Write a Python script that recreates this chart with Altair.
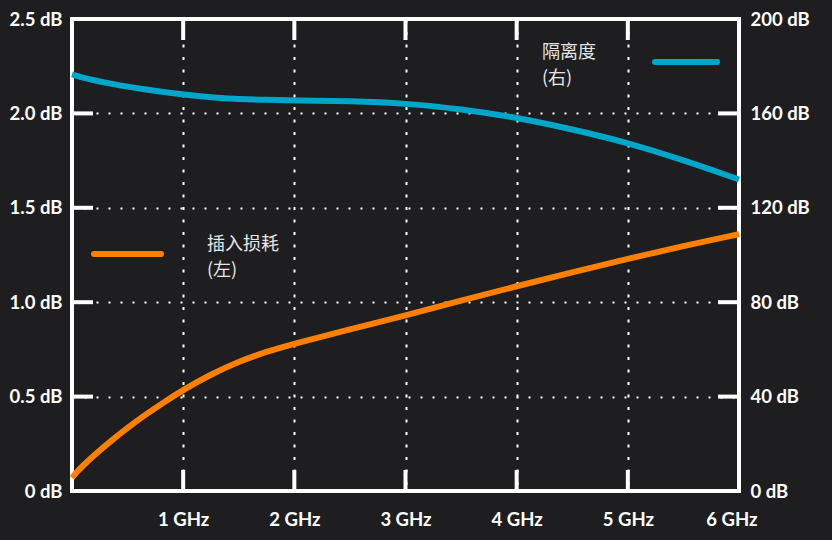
import altair as alt
import pandas as pd

# ---- data ----
freq_ghz = [0, 0.05, 0.1, 0.2, 0.35, 0.5, 0.65, 0.8, 1.0, 1.25, 1.5, 1.75, 2.0,
            2.5, 3.0, 3.5, 4.0, 4.5, 5.0, 5.5, 6.0]
insertion_loss_db = [0.07, 0.105, 0.135, 0.19, 0.265, 0.335, 0.40, 0.46, 0.536, 0.618,
                     0.686, 0.738, 0.781, 0.856, 0.93, 1.008, 1.085, 1.158, 1.23, 1.298, 1.36]
isolation_db = [176.5, 175.8, 175.1, 174.0, 172.6, 171.3, 170.2, 169.2, 168.0,
                166.8, 166.1, 165.7, 165.5, 165.2, 164.3, 161.8, 158.3, 153.3,
                147.6, 140.2, 132.0]

x_ticks = [1, 2, 3, 4, 5, 6]
left_ticks = [0, 0.5, 1.0, 1.5, 2.0, 2.5]
right_ticks = [0, 40, 80, 120, 160, 200]
inner_tick_x = [1, 2, 3, 4, 5]
inner_tick_y = [0.5, 1.0, 1.5, 2.0]

il_label = ["插入损耗", "(左)"]
iso_label = ["隔离度", "(右)"]

ORANGE = "#ff8000"
CYAN = "#00a6c9"
BG = "#1e1e20"
WHITE = "#ffffff"
TXT = "#e6e6e6"

W, H = 667, 472

df = pd.DataFrame({"f": freq_ghz, "il": insertion_loss_db, "iso": isolation_db})

xscale = alt.Scale(domain=[0, 6], nice=False, zero=False)
lscale = alt.Scale(domain=[0, 2.5], nice=False)
rscale = alt.Scale(domain=[0, 200], nice=False)

x_axis = alt.Axis(values=x_ticks, labelExpr="datum.value + ' GHz'", title=None,
                  grid=True, gridDash=[3, 9.5], gridColor=WHITE, gridWidth=2,
                  labelPadding=19, ticks=False, domain=False,
                  labelFlush=True, labelFlushOffset=18)
l_axis = alt.Axis(values=left_ticks, title=None, orient="left",
                  labelExpr="datum.value == 0 ? '0 dB' : format(datum.value, '.1f') + ' dB'",
                  grid=True, gridDash=[2, 10], gridColor=WHITE, gridWidth=2,
                  labelPadding=10, ticks=False, domain=False)
r_axis = alt.Axis(values=right_ticks, title=None, orient="right",
                  labelExpr="format(datum.value, 'd') + ' dB'",
                  grid=False, labelPadding=11, ticks=False, domain=False)

orange = alt.Chart(df).mark_line(color=ORANGE, strokeWidth=6, interpolate="basis").encode(
    x=alt.X("f:Q", scale=xscale, axis=x_axis),
    y=alt.Y("il:Q", scale=lscale, axis=l_axis),
)

# inward ticks (solid white segments)
tx = pd.DataFrame({"v": inner_tick_x})
ty = pd.DataFrame({"v": inner_tick_y})
bottom_ticks = alt.Chart(tx).mark_rule(color=WHITE, strokeWidth=4).encode(
    x=alt.X("v:Q", scale=xscale, axis=x_axis), y=alt.value(H - 21), y2=alt.value(H))
top_ticks = alt.Chart(tx).mark_rule(color=WHITE, strokeWidth=4).encode(
    x=alt.X("v:Q", scale=xscale, axis=x_axis), y=alt.value(0), y2=alt.value(21))
left_t = alt.Chart(ty).mark_rule(color=WHITE, strokeWidth=4).encode(
    y=alt.Y("v:Q", scale=lscale, axis=l_axis), x=alt.value(0), x2=alt.value(21))
right_t = alt.Chart(ty).mark_rule(color=WHITE, strokeWidth=4).encode(
    y=alt.Y("v:Q", scale=lscale, axis=l_axis), x=alt.value(W - 21), x2=alt.value(W))

one = pd.DataFrame({"a": [0]})
leg_o = alt.Chart(one).mark_rule(color=ORANGE, strokeWidth=6, strokeCap="round").encode(
    x=alt.value(22), x2=alt.value(89), y=alt.value(235))
leg_c = alt.Chart(one).mark_rule(color=CYAN, strokeWidth=6, strokeCap="round").encode(
    x=alt.value(583), x2=alt.value(645), y=alt.value(43))


def txt(s, x, y):
    return alt.Chart(pd.DataFrame({"t": [s]})).mark_text(
        align="left", baseline="middle", font="Noto Sans CJK SC", fontSize=18,
        color=TXT).encode(text="t:N", x=alt.value(x), y=alt.value(y))


texts = [txt(il_label[0], 135, 226), txt(il_label[1], 135, 252),
         txt(iso_label[0], 470, 34), txt(iso_label[1], 470, 60)]

left_layer = alt.layer(orange, bottom_ticks, top_ticks, left_t, right_t,
                       leg_o, leg_c, *texts)

cyan = alt.Chart(df).mark_line(color=CYAN, strokeWidth=6, interpolate="basis").encode(
    x=alt.X("f:Q", scale=xscale, axis=x_axis),
    y=alt.Y("iso:Q", scale=rscale, axis=r_axis),
)

chart = alt.layer(left_layer, cyan).resolve_scale(y="independent").properties(
    width=W, height=H,
    autosize=alt.AutoSizeParams(type="none"),
    padding={"left": 72, "top": 19, "right": 93, "bottom": 49},
    background=BG,
).configure_view(
    stroke=WHITE, strokeWidth=4, fill=BG
).configure_axis(
    labelColor=WHITE, labelFont="Lato", labelFontWeight="bold", labelFontSize=18.5,
)

chart.save("out.html", embed_options={"renderer": "svg", "actions": False})
